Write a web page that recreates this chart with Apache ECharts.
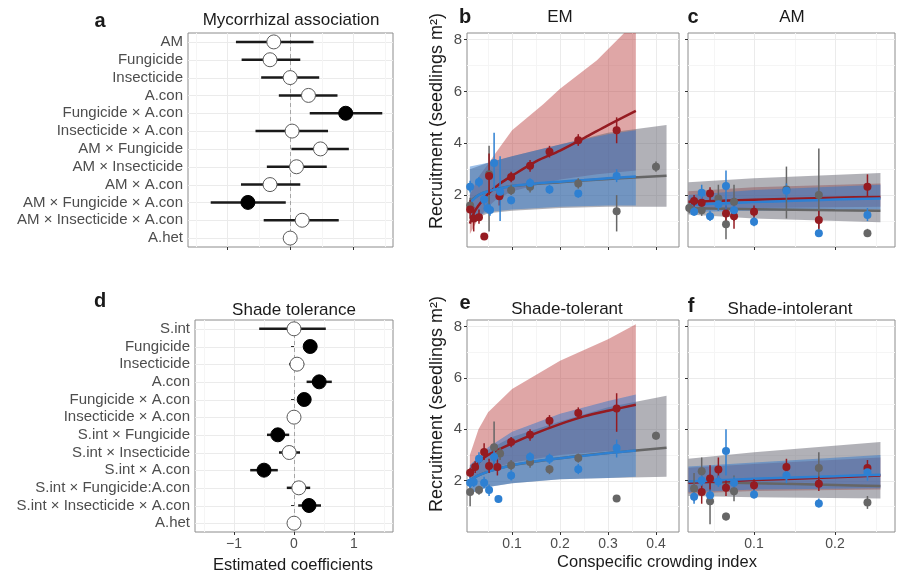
<!DOCTYPE html>
<html>
<head>
<meta charset="utf-8">
<script src="https://cdn.jsdelivr.net/npm/echarts@6/dist/echarts.min.js"></script>
<style>
html, body { margin: 0; padding: 0; background: #fff; }
#chart { width: 897px; height: 573px; }
</style>
</head>
<body>
<div id="chart"></div>
<script>
// ---- coefficient panels (a, d) ----
const termsA = ['AM', 'Fungicide', 'Insecticide', 'A.con', 'Fungicide × A.con', 'Insecticide × A.con',
  'AM × Fungicide', 'AM × Insecticide', 'AM × A.con', 'AM × Fungicide × A.con', 'AM × Insecticide × A.con', 'A.het']
const estA = [-0.26, -0.32, 0.0, 0.29, 0.88, 0.03, 0.48, 0.1, -0.32, -0.67, 0.19, 0.0]
const loA = [-0.86, -0.77, -0.46, -0.18, 0.31, -0.55, 0.02, -0.37, -0.78, -1.26, -0.42, -0.02]
const hiA = [0.37, 0.16, 0.46, 0.75, 1.46, 0.6, 0.93, 0.58, 0.16, -0.07, 0.77, 0.02]
const sigA = [0, 0, 0, 0, 1, 0, 0, 0, 0, 1, 0, 0]

const termsD = ['S.int', 'Fungicide', 'Insecticide', 'A.con', 'Fungicide × A.con', 'Insecticide × A.con',
  'S.int × Fungicide', 'S.int × Insecticide', 'S.int × A.con', 'S.int × Fungicide:A.con', 'S.int × Insecticide × A.con', 'A.het']
const estD = [0.0, 0.27, 0.05, 0.42, 0.17, 0.0, -0.27, -0.08, -0.5, 0.08, 0.25, 0.0]
const loD = [-0.58, 0.2, -0.08, 0.21, 0.1, -0.05, -0.45, -0.25, -0.73, -0.12, 0.07, -0.02]
const hiD = [0.53, 0.34, 0.17, 0.63, 0.24, 0.05, -0.08, 0.1, -0.27, 0.27, 0.45, 0.02]
const sigD = [0, 1, 0, 1, 1, 0, 1, 0, 1, 0, 1, 0]

const coefTicks = [-1, 0, 1]
const coefMinor = [-1.5, -0.5, 0.5, 1.5]

// ---- recruitment panels (b, c, e, f) ----
// fits: [x, y]; bands: [x, lower, upper]; points: [x, y, lower, upper]
const bFitRed = [[0.012, 0.9], [0.02, 1.3], [0.03, 1.6], [0.05, 2.05], [0.075, 2.45], [0.1, 2.75], [0.15, 3.3], [0.2, 3.72], [0.25, 4.2], [0.3, 4.7], [0.358, 5.25]]
const bFitBlue = [[0.012, 1.7], [0.03, 2.0], [0.05, 2.15], [0.1, 2.35], [0.15, 2.45], [0.2, 2.52], [0.25, 2.58], [0.3, 2.65], [0.358, 2.72]]
const bFitGray = [[0.012, 1.75], [0.03, 2.0], [0.05, 2.15], [0.1, 2.35], [0.2, 2.5], [0.3, 2.62], [0.422, 2.75]]
const bBandRed = [[0.012, 0.5, 2.0], [0.03, 1.1, 2.7], [0.05, 1.55, 3.2], [0.065, 1.8, 3.6], [0.1, 2.15, 4.5], [0.165, 2.45, 5.5], [0.2, 2.6, 6.1], [0.277, 2.8, 7.2], [0.358, 2.95, 8.7]]
const bBandBlue = [[0.012, 1.1, 3.1], [0.05, 1.35, 3.25], [0.1, 1.45, 3.5], [0.2, 1.55, 3.95], [0.3, 1.6, 4.35], [0.358, 1.6, 4.5]]
const bBandGray = [[0.012, 1.0, 3.0], [0.05, 1.3, 3.25], [0.1, 1.4, 3.5], [0.2, 1.5, 3.95], [0.3, 1.55, 4.4], [0.422, 1.55, 4.7]]
const bPtsRed = [[0.0125, 1.45, 1.1, 1.8], [0.02, 1.1, 0.6, 1.55], [0.031, 1.15, 0.9, 1.45], [0.042, 0.4, 0.35, 0.45], [0.052, 2.74, 2.0, 3.6],
  [0.0735, 1.96, 1.6, 2.3], [0.098, 2.7, 2.5, 2.9], [0.1375, 3.13, 2.9, 3.35], [0.178, 3.67, 3.45, 3.9], [0.238, 4.12, 3.9, 4.35], [0.318, 4.5, 4.0, 5.0]]
const bPtsBlue = [[0.0125, 2.32, 2.1, 2.55], [0.031, 2.51, 2.3, 2.7], [0.0417, 1.83, 1.6, 2.05], [0.0486, 1.49, 1.3, 1.7], [0.054, 1.43, 1.2, 1.65],
  [0.0625, 3.24, 2.2, 4.4], [0.075, 2.13, 1.0, 3.5], [0.098, 1.8, 1.65, 1.95], [0.1375, 2.47, 2.3, 2.65], [0.178, 2.22, 2.05, 2.4], [0.238, 2.06, 1.9, 2.2], [0.318, 2.74, 2.5, 3.0]]
const bPtsGray = [[0.0125, 1.6, 1.3, 1.9], [0.052, 2.8, 0.6, 3.9], [0.075, 2.04, 1.8, 2.3], [0.098, 2.19, 2.0, 2.4], [0.1375, 2.32, 2.1, 2.5],
  [0.238, 2.45, 2.25, 2.65], [0.318, 1.38, 0.6, 2.0], [0.4, 3.09, 2.9, 3.3]]

const cFitRed = [[0.019, 1.74], [0.06, 1.78], [0.1, 1.82], [0.15, 1.86], [0.2, 1.9], [0.256, 1.93]]
const cFitBlue = [[0.019, 1.62], [0.06, 1.68], [0.1, 1.73], [0.15, 1.78], [0.2, 1.83], [0.256, 1.87]]
const cFitGray = [[0.019, 1.49], [0.1, 1.46], [0.2, 1.42], [0.256, 1.4]]
const cBandRed = [[0.019, 1.45, 2.15], [0.1, 1.5, 2.3], [0.256, 1.55, 2.45]]
const cBandBlue = [[0.019, 1.35, 2.0], [0.1, 1.4, 2.2], [0.256, 1.45, 2.4]]
const cBandGray = [[0.019, 1.25, 2.5], [0.1, 1.1, 2.65], [0.256, 0.95, 2.85]]
const cPtsRed = [[0.026, 1.77, 1.55, 2.0], [0.0354, 1.71, 1.5, 1.95], [0.0457, 2.06, 1.8, 2.3], [0.0654, 1.29, 1.0, 1.6], [0.0753, 1.19, 0.7, 1.7],
  [0.1, 1.36, 1.1, 1.6], [0.18, 1.04, 0.7, 1.4], [0.24, 2.32, 1.95, 2.8]]
const cPtsBlue = [[0.026, 1.36, 1.2, 1.55], [0.0354, 2.09, 1.7, 2.4], [0.0457, 1.19, 1.0, 1.4], [0.056, 1.65, 1.4, 1.9], [0.0654, 2.35, 1.3, 2.95],
  [0.0753, 1.42, 1.2, 1.65], [0.1, 0.97, 0.8, 1.15], [0.14, 2.17, 1.9, 2.45], [0.18, 0.53, 0.45, 0.65], [0.24, 1.23, 1.0, 1.5]]
const cPtsGray = [[0.02, 1.5, 1.3, 1.7], [0.0354, 1.42, 1.2, 1.65], [0.056, 1.87, 1.4, 2.4], [0.0654, 0.88, 0.3, 1.6], [0.0753, 1.74, 1.0, 2.4],
  [0.14, 2.22, 1.1, 3.1], [0.18, 2.0, 0.5, 3.8], [0.24, 0.53, 0.4, 0.7]]

const eFitRed = [[0.012, 2.2], [0.03, 2.7], [0.05, 3.0], [0.1, 3.45], [0.15, 3.85], [0.2, 4.2], [0.25, 4.5], [0.3, 4.72], [0.358, 4.95]]
const eFitBlue = [[0.012, 2.0], [0.03, 2.2], [0.05, 2.35], [0.1, 2.6], [0.15, 2.75], [0.2, 2.87], [0.25, 2.97], [0.3, 3.07], [0.358, 3.17]]
const eFitGray = [[0.012, 2.0], [0.03, 2.2], [0.05, 2.35], [0.1, 2.6], [0.2, 2.87], [0.3, 3.07], [0.422, 3.28]]
const eBandRed = [[0.012, 1.9, 3.0], [0.03, 2.2, 4.0], [0.05, 2.4, 4.66], [0.1, 2.7, 5.56], [0.2, 3.0, 6.66], [0.3, 3.15, 7.5], [0.358, 3.2, 8.08]]
const eBandBlue = [[0.012, 1.5, 2.6], [0.05, 1.75, 3.3], [0.1, 1.9, 3.9], [0.2, 2.05, 4.6], [0.3, 2.1, 5.1], [0.358, 2.15, 5.35]]
const eBandGray = [[0.012, 1.5, 2.6], [0.05, 1.75, 3.2], [0.1, 1.9, 3.7], [0.2, 2.05, 4.3], [0.3, 2.1, 4.85], [0.422, 2.15, 5.3]]
const ePtsRed = [[0.0125, 2.31, 2.1, 2.5], [0.023, 2.53, 2.3, 2.75], [0.0417, 3.11, 2.8, 3.45], [0.052, 2.57, 2.3, 2.85], [0.0694, 2.53, 2.2, 2.9],
  [0.098, 3.5, 3.3, 3.7], [0.1375, 3.78, 3.55, 4.0], [0.178, 4.33, 4.1, 4.55], [0.238, 4.63, 4.4, 4.85], [0.318, 4.81, 3.9, 5.4]]
const ePtsBlue = [[0.0125, 1.92, 1.7, 2.15], [0.02, 1.95, 1.75, 2.15], [0.031, 2.85, 2.6, 3.1], [0.0417, 1.92, 1.7, 2.15], [0.052, 1.63, 1.4, 1.85],
  [0.0625, 2.92, 2.5, 3.3], [0.0715, 1.28, 1.15, 1.4], [0.098, 2.2, 2.0, 2.4], [0.1375, 2.92, 2.7, 3.1], [0.178, 2.85, 2.65, 3.05], [0.238, 2.44, 2.25, 2.65], [0.318, 3.27, 2.9, 3.6]]
const ePtsGray = [[0.0125, 1.56, 1.0, 1.8], [0.031, 1.63, 1.45, 1.8], [0.0625, 3.3, 2.4, 4.3], [0.075, 3.05, 2.8, 3.3], [0.098, 2.6, 2.4, 2.8],
  [0.1375, 2.72, 2.5, 2.9], [0.178, 2.44, 2.25, 2.6], [0.238, 2.88, 2.7, 3.05], [0.318, 1.3, 1.2, 1.4], [0.4, 3.75, 3.6, 3.9]]

const fFitRed = [[0.019, 1.92], [0.1, 2.02], [0.2, 2.13], [0.256, 2.2]]
const fFitBlue = [[0.019, 1.97], [0.1, 2.07], [0.2, 2.17], [0.256, 2.23]]
const fFitGray = [[0.019, 1.97], [0.1, 1.9], [0.2, 1.83], [0.256, 1.79]]
const fBandRed = [[0.019, 1.5, 2.5], [0.1, 1.6, 2.65], [0.256, 1.65, 2.9]]
const fBandBlue = [[0.019, 1.55, 2.55], [0.1, 1.65, 2.7], [0.256, 1.7, 3.0]]
const fBandGray = [[0.019, 1.4, 2.85], [0.1, 1.35, 3.1], [0.256, 1.3, 3.5]]
const fPtsRed = [[0.0354, 1.56, 1.1, 2.0], [0.0457, 2.08, 1.6, 2.6], [0.056, 2.43, 1.9, 2.9], [0.0654, 1.72, 1.4, 2.0], [0.1, 1.82, 1.6, 2.05],
  [0.14, 2.53, 2.2, 2.85], [0.18, 1.88, 1.6, 2.15], [0.24, 2.49, 2.2, 2.8]]
const fPtsBlue = [[0.026, 1.37, 1.1, 1.65], [0.0354, 2.0, 1.8, 2.2], [0.0457, 1.43, 1.2, 1.65], [0.056, 1.97, 1.75, 2.2], [0.0654, 3.15, 2.2, 4.0],
  [0.0753, 1.92, 1.7, 2.15], [0.1, 1.46, 1.3, 1.65], [0.14, 2.2, 1.9, 2.5], [0.18, 1.11, 0.95, 1.3], [0.24, 2.33, 2.0, 2.6]]
const fPtsGray = [[0.026, 1.69, 1.2, 2.3], [0.0354, 2.36, 1.9, 2.9], [0.0457, 1.2, 0.3, 2.0], [0.0654, 0.6, 0.45, 0.75], [0.0753, 1.59, 1.2, 2.2],
  [0.18, 2.49, 1.9, 3.1], [0.24, 1.15, 0.9, 1.4]]

const yTicks = [2, 4, 6, 8]
const yMinor = [1, 3, 5, 7]
const xTicksWide = [0.1, 0.2, 0.3, 0.4]
const xMinorWide = [0.05, 0.15, 0.25, 0.35]
const xTicksNarrow = [0.1, 0.2]
const xMinorNarrow = [0.05, 0.15, 0.25]

// ---- styles ----
const FONT = "'Liberation Sans', Arial, sans-serif"
const RED = '#951b21', BLUE = '#2e80d2', GRAY = '#666666'
const RED_FILL = 'rgba(185,60,60,0.46)', GRAY_FILL = 'rgba(100,100,112,0.5)', BLUE_FILL = 'rgba(40,115,205,0.46)'
const GRID_MAJOR = '#ebebeb', GRID_MINOR = '#f5f5f5'

const chart = echarts.init(document.getElementById('chart'))

const grids = [
  { left: 188, top: 33, width: 205, height: 214 },  // a
  { left: 467, top: 33, width: 212, height: 214 },  // b
  { left: 688, top: 33, width: 207, height: 214 },  // c
  { left: 195, top: 320, width: 198, height: 212 }, // d
  { left: 467, top: 320, width: 212, height: 212 }, // e
  { left: 688, top: 320, width: 207, height: 212 }  // f
].map(g => Object.assign({ show: true, borderColor: '#8c8c8c', borderWidth: 1, backgroundColor: 'transparent' }, g))

const tickStyle = { color: '#333' }
const labelStyle = { color: '#4d4d4d', fontSize: 13, fontFamily: FONT }

function coefX(gi, min, max, showLabels) {
  return {
    gridIndex: gi, type: 'value', min, max,
    axisLine: { show: false },
    axisTick: { show: true, customValues: coefTicks, length: 3, lineStyle: tickStyle },
    axisLabel: Object.assign({ show: showLabels, customValues: coefTicks, margin: 5,
      formatter: v => v < 0 ? '\u2212' + Math.abs(v) : String(v) }, labelStyle, { fontSize: 14 }),
    splitLine: { show: false }
  }
}
function coefY(gi, terms) {
  return {
    gridIndex: gi, type: 'category', data: terms, inverse: true,
    axisLine: { show: false },
    axisTick: { show: true, alignWithLabel: true, interval: 0, length: 3, lineStyle: tickStyle },
    axisLabel: Object.assign({}, labelStyle, { fontSize: 15, margin: 5, interval: 0, hideOverlap: false }),
    splitLine: { show: false }
  }
}
function recX(gi, min, max, ticks, showLabels) {
  return {
    gridIndex: gi, type: 'value', min, max,
    axisLine: { show: false },
    axisTick: { show: true, customValues: ticks, length: 3, lineStyle: tickStyle },
    axisLabel: Object.assign({ show: showLabels, customValues: ticks, margin: 5 }, labelStyle, { fontSize: 14 }),
    splitLine: { show: false }
  }
}
function recY(gi, showLabels) {
  return {
    gridIndex: gi, type: 'value', min: 0, max: 8.25,
    axisLine: { show: false },
    axisTick: { show: true, customValues: yTicks, length: 3, lineStyle: tickStyle },
    axisLabel: Object.assign({ show: showLabels, customValues: yTicks, margin: 5 }, labelStyle, { fontSize: 15 }),
    splitLine: { show: false }
  }
}

// grid lines drawn through the axes' own scales
function vLines(gi, vals, yRef, color, dash) {
  return {
    type: 'custom', xAxisIndex: gi, yAxisIndex: gi, silent: true, z: 1,
    data: vals.map(v => [v, yRef]),
    renderItem: (params, api) => {
      const cs = params.coordSys
      const x = Math.round(api.coord([api.value(0), api.value(1)])[0]) + 0.5
      return { type: 'line', shape: { x1: x, y1: cs.y, x2: x, y2: cs.y + cs.height },
        style: { stroke: color, lineWidth: 1, lineDash: dash || null } }
    }
  }
}
function hLines(gi, vals, xRef, color) {
  return {
    type: 'custom', xAxisIndex: gi, yAxisIndex: gi, silent: true, z: 1,
    data: vals.map(v => [xRef, v]),
    renderItem: (params, api) => {
      const cs = params.coordSys
      const y = Math.round(api.coord([api.value(0), api.value(1)])[1]) + 0.5
      return { type: 'line', shape: { x1: cs.x, y1: y, x2: cs.x + cs.width, y2: y },
        style: { stroke: color, lineWidth: 1 } }
    }
  }
}

function coefSeries(gi, terms, est, lo, hi, sig, size) {
  return [
    hLines(gi, terms.map((t, i) => i), 0, GRID_MAJOR),
    vLines(gi, coefMinor, 0, GRID_MINOR),
    vLines(gi, coefTicks, 0, GRID_MAJOR),
    vLines(gi, [0], 0, '#a6a6a6', [4, 3]),
    {
      type: 'custom', xAxisIndex: gi, yAxisIndex: gi, silent: true, z: 3,
      data: est.map((e, i) => [lo[i], i, hi[i]]),
      renderItem: (params, api) => {
        const p1 = api.coord([api.value(0), api.value(1)])
        const p2 = api.coord([api.value(2), api.value(1)])
        return { type: 'line', shape: { x1: p1[0], y1: p1[1], x2: p2[0], y2: p2[1] },
          style: { stroke: '#1a1a1a', lineWidth: 2.5 } }
      }
    },
    {
      type: 'scatter', xAxisIndex: gi, yAxisIndex: gi, silent: true, z: 4, symbolSize: size,
      data: est.map((e, i) => ({
        value: [e, i],
        itemStyle: sig[i] ? { color: '#000', borderColor: '#000', borderWidth: 1, opacity: 1 }
                          : { color: '#fff', borderColor: '#5a5a5a', borderWidth: 1, opacity: 1 }
      }))
    }
  ]
}

function bandSeries(gi, rows, fill) {
  return {
    type: 'custom', xAxisIndex: gi, yAxisIndex: gi, silent: true, z: 2, clip: true,
    data: rows,
    renderItem: (params, api) => {
      if (params.dataIndexInside !== 0) return null
      const n = params.dataInsideLength
      const top = [], bot = []
      for (let i = 0; i < n; i++) {
        top.push(api.coord([api.value(0, i), api.value(2, i)]))
        bot.push(api.coord([api.value(0, i), api.value(1, i)]))
      }
      return { type: 'polygon', shape: { points: top.concat(bot.reverse()) }, style: { fill } }
    }
  }
}
function fitSeries(gi, rows, color) {
  return { type: 'line', xAxisIndex: gi, yAxisIndex: gi, silent: true, z: 3, data: rows,
    smooth: 0.3, showSymbol: false, symbol: 'none', lineStyle: { color, width: 2.5 } }
}
function errSeries(gi, rows, color) {
  return {
    type: 'custom', xAxisIndex: gi, yAxisIndex: gi, silent: true, z: 4, clip: true,
    data: rows,
    renderItem: (params, api) => {
      const p1 = api.coord([api.value(0), api.value(2)])
      const p2 = api.coord([api.value(0), api.value(3)])
      return { type: 'line', shape: { x1: p1[0], y1: p1[1], x2: p2[0], y2: p2[1] },
        style: { stroke: color, lineWidth: 1.5 } }
    }
  }
}
function ptSeries(gi, rows, color) {
  return { type: 'scatter', xAxisIndex: gi, yAxisIndex: gi, silent: true, z: 5, symbolSize: 8,
    data: rows.map(r => [r[0], r[1]]), itemStyle: { color, opacity: 1 } }
}
function recPanel(gi, xMajor, xMinor, xRef, bands, fits, pts) {
  return [
    vLines(gi, xMinor, 1, GRID_MINOR),
    hLines(gi, yMinor, xRef, GRID_MINOR),
    vLines(gi, xMajor, 1, GRID_MAJOR),
    hLines(gi, yTicks, xRef, GRID_MAJOR),
    bandSeries(gi, bands[0], RED_FILL),
    bandSeries(gi, bands[1], GRAY_FILL),
    bandSeries(gi, bands[2], BLUE_FILL),
    fitSeries(gi, fits[2], GRAY),
    fitSeries(gi, fits[0], RED),
    fitSeries(gi, fits[1], BLUE),
    errSeries(gi, pts[2], GRAY),
    errSeries(gi, pts[0], RED),
    errSeries(gi, pts[1], BLUE),
    ptSeries(gi, pts[2], GRAY),
    ptSeries(gi, pts[0], RED),
    ptSeries(gi, pts[1], BLUE)
  ]
}

const series = [].concat(
  coefSeries(0, termsA, estA, loA, hiA, sigA, 14),
  recPanel(1, xTicksWide, xMinorWide, 0.1, [bBandRed, bBandGray, bBandBlue], [bFitRed, bFitBlue, bFitGray], [bPtsRed, bPtsBlue, bPtsGray]),
  recPanel(2, xTicksNarrow, xMinorNarrow, 0.1, [cBandRed, cBandGray, cBandBlue], [cFitRed, cFitBlue, cFitGray], [cPtsRed, cPtsBlue, cPtsGray]),
  coefSeries(3, termsD, estD, loD, hiD, sigD, 14),
  recPanel(4, xTicksWide, xMinorWide, 0.1, [eBandRed, eBandGray, eBandBlue], [eFitRed, eFitBlue, eFitGray], [ePtsRed, ePtsBlue, ePtsGray]),
  recPanel(5, xTicksNarrow, xMinorNarrow, 0.1, [fBandRed, fBandGray, fBandBlue], [fFitRed, fFitBlue, fFitGray], [fPtsRed, fPtsBlue, fPtsGray])
)

function txt(x, y, text, size, bold, rot) {
  return {
    type: 'text', x, y, rotation: rot || 0, silent: true, z: 10,
    style: { text, font: (bold ? 'bold ' : '') + size + 'px ' + FONT, fill: '#1a1a1a',
      align: 'center', verticalAlign: 'middle', textAlign: 'center', textVerticalAlign: 'middle' }
  }
}

const option = {
  animation: false,
  textStyle: { fontFamily: FONT },
  grid: grids,
  xAxis: [
    coefX(0, -1.62, 1.63, false),
    recX(1, 0.006, 0.448, xTicksWide, false),
    recX(2, 0.0185, 0.274, xTicksNarrow, false),
    coefX(3, -1.65, 1.65, true),
    recX(4, 0.006, 0.448, xTicksWide, true),
    recX(5, 0.0185, 0.274, xTicksNarrow, true)
  ],
  yAxis: [
    coefY(0, termsA),
    recY(1, true),
    recY(2, false),
    coefY(3, termsD),
    recY(4, true),
    recY(5, false)
  ],
  series,
  graphic: [
    txt(100, 21, 'a', 20, true),
    txt(291, 20, 'Mycorrhizal association', 17),
    txt(465, 17, 'b', 20, true),
    txt(560, 17, 'EM', 17),
    txt(693, 17, 'c', 20, true),
    txt(792, 17, 'AM', 17),
    txt(100, 301, 'd', 20, true),
    txt(294, 310, 'Shade tolerance', 17),
    txt(465, 303, 'e', 20, true),
    txt(567, 309, 'Shade-tolerant', 17),
    txt(691, 306, 'f', 20, true),
    txt(790, 309, 'Shade-intolerant', 17),
    txt(437, 121, 'Recruitment (seedlings m²)', 18, false, Math.PI / 2),
    txt(437, 404, 'Recruitment (seedlings m²)', 18, false, Math.PI / 2),
    txt(293, 565, 'Estimated coefficients', 16.5),
    txt(657, 562, 'Conspecific crowding index', 16.5)
  ]
}

chart.setOption(option)
</script>
</body>
</html>
